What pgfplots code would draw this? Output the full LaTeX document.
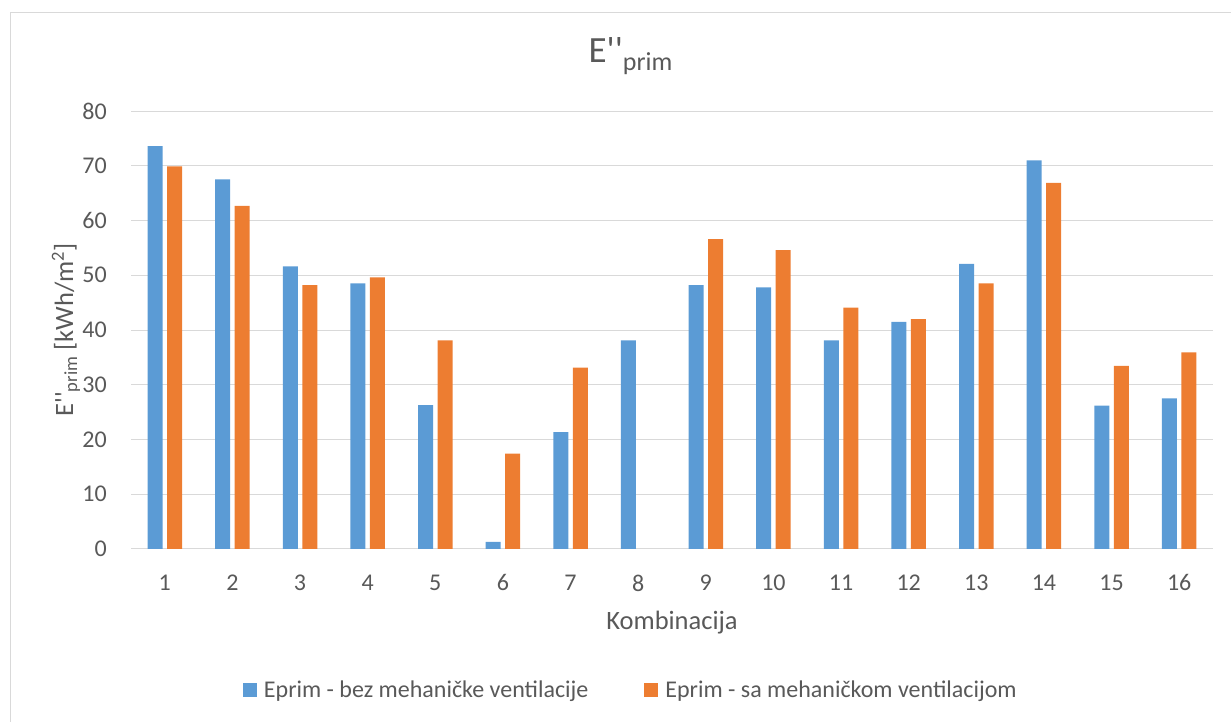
\documentclass[border=0pt]{standalone}
\usepackage{fontspec}
\setmainfont{Carlito}[Ligatures=TeXOff]
\usepackage{pgfplots}
\pgfplotsset{compat=1.18}
\definecolor{txt}{HTML}{595959}
\definecolor{gridc}{HTML}{D9D9D9}
\definecolor{cblue}{HTML}{5B9BD5}
\definecolor{corange}{HTML}{ED7D31}
\newcommand{\pp}{\symbol{39}\symbol{39}}
\begin{document}
\begin{tikzpicture}[x=1pt,y=1pt]
\useasboundingbox (0,0) rectangle (1231,722);
\draw[gridc, line width=1pt] (10.5,0) -- (10.5,709.5) -- (1231,709.5);
\begin{axis}[
  at={(131pt,173pt)}, anchor=south west,
  width=1082pt, height=438pt, scale only axis,
  xmin=0.5, xmax=16.5, ymin=0, ymax=80,
  xtick={1,...,16}, ytick={0,10,...,80},
  ybar=4.4pt, bar width=15pt,
  axis line style={draw=none},
  major tick length=0pt,
  ymajorgrids, grid style={gridc, line width=1pt},
  /pgf/number format/assume math mode=true,
  tick label style={font=\fontsize{24}{28}\selectfont, text=txt},
  yticklabel style={inner sep=0pt, anchor=east, xshift=-24pt},
  xticklabel style={inner sep=0pt, anchor=north, yshift=-25.5pt},
  xlabel={Kombinacija},
  xlabel style={at={(axis description cs:0.5,-0.184)}, anchor=base, font=\fontsize{26.5}{30}\selectfont, text=txt},
  ylabel={E\pp\textsubscript{prim} [kWh/m\textsuperscript{2}]},
  ylabel style={at={(axis description cs:-0.0536,0.5)}, anchor=base, font=\fontsize{26.5}{30}\selectfont, text=txt},
  title={E\pp\raisebox{-8.5pt}{\fontsize{26}{30}\selectfont prim}},
  title style={at={(axis description cs:0.4584,1.098)}, anchor=base west, xshift=-42pt, font=\fontsize{37}{42}\selectfont, text=txt},
  legend columns=2,
  legend image code/.code={\fill[#1, draw=none] (0pt,-7pt) rectangle (14pt,7pt);},
  legend style={at={(axis description cs:0.461,-0.322)}, anchor=center, draw=none,
    font=\fontsize{24}{28}\selectfont, text=txt,
    nodes={inner sep=0pt},
    /tikz/every odd column/.append style={column sep=7pt},
    /tikz/every even column/.append style={column sep=56pt}},
]
\addplot[fill=cblue, draw=none] coordinates {
(1,73.6) (2,67.5) (3,51.6) (4,48.5) (5,26.3) (6,1.3) (7,21.35) (8,38.1)
(9,48.2) (10,47.8) (11,38.1) (12,41.5) (13,52.1) (14,71.0) (15,26.2) (16,27.5)};
\addplot[fill=corange, draw=none] coordinates {
(1,69.9) (2,62.65) (3,48.2) (4,49.6) (5,38.1) (6,17.4) (7,33.15)
(9,56.6) (10,54.6) (11,44.1) (12,42.0) (13,48.5) (14,66.85) (15,33.45) (16,35.9)};
\legend{Eprim - bez mehaničke ventilacije, Eprim - sa mehaničkom ventilacijom}
\end{axis}
\end{tikzpicture}
\end{document}
